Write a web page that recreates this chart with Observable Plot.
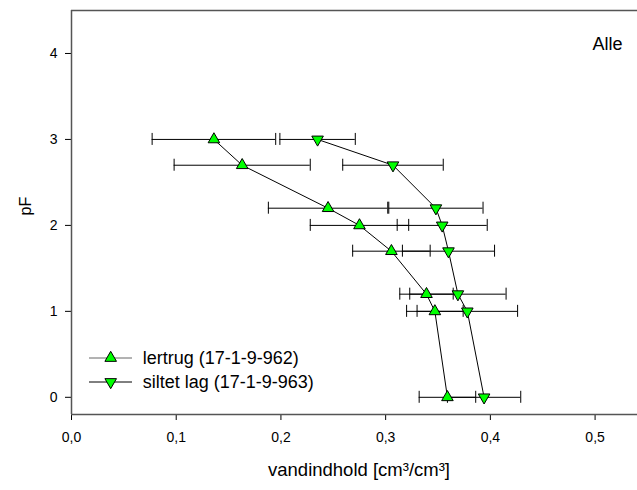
<!DOCTYPE html>
<html>
<head>
<meta charset="utf-8">
<script src="https://cdn.jsdelivr.net/npm/d3@7"></script>
<script src="https://cdn.jsdelivr.net/npm/@observablehq/plot@0.6"></script>
<style>
  html, body { margin: 0; padding: 0; background: #fff; }
  #chart { position: relative; width: 637px; height: 490px; }
</style>
</head>
<body>
<div id="chart"></div>
<script>
// pF levels (y) and water content (x) with error (±)
const pF = [3, 2.7, 2.2, 2.0, 1.7, 1.2, 1.0, 0];
const lertrugMean = [0.136, 0.163, 0.245, 0.275, 0.3055, 0.339, 0.347, 0.359];
const lertrugErr  = [0.059, 0.065, 0.057, 0.047, 0.037, 0.0255, 0.027, 0.027];
const siltetMean  = [0.235, 0.307, 0.348, 0.354, 0.360, 0.369, 0.378, 0.394];
const siltetErr   = [0.036, 0.048, 0.045, 0.043, 0.044, 0.046, 0.048, 0.035];
const seriesNames = ["lertrug (17-1-9-962)", "siltet lag (17-1-9-963)"];
const xTicks = [0, 0.1, 0.2, 0.3, 0.4, 0.5];
const yTicks = [0, 1, 2, 3, 4];
const xDomain = [0, 0.5405];
const yDomain = [-0.2, 4.5];
const xLabel = "vandindhold [cm³/cm³]";
const yLabel = "pF";
const panelTitle = "Alle";

const lertrug = pF.map((p, i) => ({pF: p, x: lertrugMean[i], e: lertrugErr[i]}));
const siltet = pF.map((p, i) => ({pF: p, x: siltetMean[i], e: siltetErr[i]}));

const triDown = {
  draw(ctx, size) {
    const s3 = Math.sqrt(3);
    const y = -Math.sqrt(size / (s3 * 3));
    ctx.moveTo(0, -y * 2);
    ctx.lineTo(-s3 * y, y);
    ctx.lineTo(s3 * y, y);
    ctx.closePath();
  }
};

const font = "'Liberation Sans', Arial, sans-serif";
const green = "#00ff00";
const axisColor = "#555";
const R = 4.3;

function errMarks(data) {
  return [
    Plot.ruleY(data, {y: "pF", x1: d => d.x - d.e, x2: d => d.x + d.e, stroke: "black", strokeWidth: 1}),
    Plot.ruleX(data, {x: d => d.x - d.e, y1: "pF", y2: "pF", insetTop: -6, insetBottom: -6, stroke: "black", strokeWidth: 1}),
    Plot.ruleX(data, {x: d => d.x + d.e, y1: "pF", y2: "pF", insetTop: -6, insetBottom: -6, stroke: "black", strokeWidth: 1})
  ];
}

const chart = Plot.plot({
  width: 637,
  height: 490,
  marginLeft: 71,
  marginRight: 0,
  marginTop: 10,
  marginBottom: 76,
  style: {fontFamily: font, fontSize: "14px", color: "black", background: "white", overflow: "visible"},
  x: {domain: xDomain, ticks: xTicks, tickSize: 6, tickPadding: 12, label: null,
      tickFormat: d => d.toFixed(1).replace(".", ",")},
  y: {domain: yDomain, ticks: yTicks, tickSize: 6, tickPadding: 8, label: null,
      tickFormat: d => String(d)},
  marks: [
    Plot.ruleX([xDomain[0]], {stroke: axisColor, strokeWidth: 1.5}),
    Plot.ruleY([yDomain[0]], {stroke: axisColor, strokeWidth: 1.5}),
    Plot.ruleY([yDomain[1]], {stroke: axisColor, strokeWidth: 1.5}),
    ...errMarks(lertrug),
    ...errMarks(siltet),
    Plot.line(lertrug, {x: "x", y: "pF", stroke: "black", strokeWidth: 1}),
    Plot.line(siltet, {x: "x", y: "pF", stroke: "black", strokeWidth: 1}),
    Plot.dot(lertrug, {x: "x", y: "pF", symbol: "triangle", r: R, fill: green, stroke: "black", strokeWidth: 1}),
    Plot.dot(siltet, {x: "x", y: "pF", symbol: triDown, r: R, fill: green, stroke: "black", strokeWidth: 1}),
    Plot.text([panelTitle], {frameAnchor: "top-right", dx: -15, dy: 26.5, textAnchor: "end", fontSize: 18}),
    Plot.text([xLabel], {frameAnchor: "bottom", dx: 4.5, dy: 61, fontSize: 18.5}),
    Plot.text([yLabel], {frameAnchor: "left", dx: -46, dy: 3, rotate: -90, fontSize: 16})
  ]
});

document.getElementById("chart").appendChild(chart);

// Legend (inside plot, lower left)
const svg = d3.select(chart);
const leg = svg.append("g").attr("font-family", font).attr("font-size", 18).attr("text-anchor", "start");
const legRows = [
  {name: seriesNames[0], y: 358, sym: d3.symbolTriangle, lineColor: "#666"},
  {name: seriesNames[1], y: 382, sym: triDown, lineColor: "black"}
];
const area = Math.PI * R * R;
legRows.forEach(r => {
  leg.append("line").attr("x1", 89).attr("x2", 132).attr("y1", r.y).attr("y2", r.y)
    .attr("stroke", r.lineColor).attr("stroke-width", 1);
  leg.append("path").attr("d", d3.symbol(r.sym, area)())
    .attr("transform", `translate(110.7,${r.y})`)
    .attr("fill", green).attr("stroke", "black").attr("stroke-width", 1);
  leg.append("text").attr("x", 142.7).attr("y", r.y).attr("dy", "0.36em")
    .attr("text-anchor", "start").attr("fill", "black").text(r.name);
});
</script>
</body>
</html>
